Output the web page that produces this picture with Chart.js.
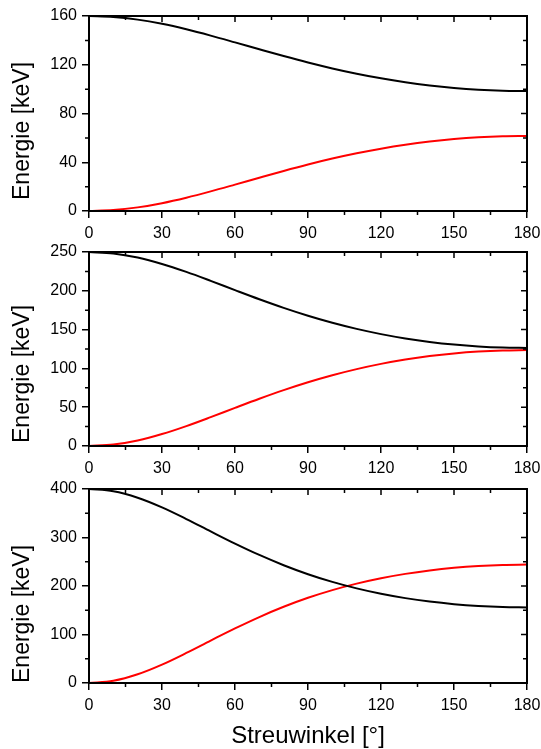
<!DOCTYPE html>
<html>
<head>
<meta charset="utf-8">
<script src="https://cdn.jsdelivr.net/npm/chart.js@4.4.0/dist/chart.umd.min.js"></script>
<style>
  body { margin: 0; background: #fff; }
  #wrap { position: relative; width: 541px; height: 749px; overflow: hidden; }
  canvas { position: absolute; left: 0; }
</style>
</head>
<body>
<div id="wrap">
  <canvas id="c1" width="541" height="245" style="top:0px"></canvas>
  <canvas id="c2" width="541" height="245" style="top:236px"></canvas>
  <canvas id="c3" width="541" height="278" style="top:473px"></canvas>
</div>
<script>
// Streuwinkel in Grad
const angles = [0,10,20,30,40,50,60,70,80,90,100,110,120,130,140,150,160,170,180];

// 160 keV
const photon160 = [160,159.24,157.03,153.56,149.08,143.91,138.34,132.67,127.11,121.85,117.00,112.66,108.87,105.65,103.03,100.99,99.54,98.68,98.39];
const electron160 = [0,0.76,2.97,6.44,10.92,16.09,21.66,27.33,32.89,38.15,43.00,47.34,51.13,54.35,56.97,59.01,60.46,61.32,61.61];

// 250 keV
const photon250 = [250,248.16,242.84,234.62,224.32,212.81,200.86,189.12,178.03,167.87,158.81,150.91,144.19,138.60,134.12,130.69,128.27,126.84,126.36];
const electron250 = [0,1.84,7.16,15.38,25.68,37.19,49.14,60.88,71.97,82.13,91.19,99.09,105.81,111.40,115.88,119.31,121.73,123.16,123.64];

// 400 keV
const photon400 = [400,395.30,381.97,362.04,338.08,312.59,287.48,264.02,242.89,224.37,208.47,195.07,183.98,174.98,167.90,162.56,158.83,156.64,155.91];
const electron400 = [0,4.70,18.03,37.96,61.92,87.41,112.52,135.98,157.11,175.63,191.53,204.93,216.02,225.02,232.10,237.44,241.17,243.36,244.09];

const xTicks = [0,30,60,90,120,150,180];
const yMaxes = [160,250,400];
const ySteps = [40,50,100];

const yTitle = 'Energie [keV]';
const xTitle = 'Streuwinkel [°]';

// frame, mirrored ticks, minor ticks, y title
const framePlugin = {
  id: 'frame',
  afterDraw(chart, args, opts) {
    const {ctx, chartArea: a, scales: {x, y}} = chart;
    ctx.save();
    ctx.strokeStyle = '#000';
    ctx.lineWidth = 2;
    ctx.strokeRect(a.left, a.top, a.right - a.left, a.bottom - a.top);

    ctx.lineWidth = 1.5;
    ctx.beginPath();
    const xv = x.ticks.map(t => t.value);
    xv.forEach(v => {
      const px = x.getPixelForValue(v);
      ctx.moveTo(px, a.top); ctx.lineTo(px, a.top + 6);
    });
    for (let i = 0; i < xv.length - 1; i++) {
      const px = x.getPixelForValue((xv[i] + xv[i + 1]) / 2);
      ctx.moveTo(px, a.bottom); ctx.lineTo(px, a.bottom + 4);
      ctx.moveTo(px, a.top); ctx.lineTo(px, a.top + 4);
    }
    const yv = y.ticks.map(t => t.value);
    yv.forEach(v => {
      const py = y.getPixelForValue(v);
      ctx.moveTo(a.right, py); ctx.lineTo(a.right - 6, py);
    });
    for (let i = 0; i < yv.length - 1; i++) {
      const py = y.getPixelForValue((yv[i] + yv[i + 1]) / 2);
      ctx.moveTo(a.left, py); ctx.lineTo(a.left - 4, py);
      ctx.moveTo(a.right, py); ctx.lineTo(a.right - 4, py);
    }
    ctx.stroke();

    // y axis title
    ctx.translate(opts.titleX, a.bottom - opts.lift);
    ctx.rotate(-Math.PI / 2);
    ctx.fillStyle = '#000';
    ctx.font = '23px Arial, "Liberation Sans", sans-serif';
    ctx.textAlign = 'left';
    ctx.textBaseline = 'alphabetic';
    ctx.fillText(yTitle, 0, 0);
    ctx.restore();
  }
};

const tickFont = { family: 'Arial, "Liberation Sans", sans-serif', size: 16 };

function makeChart(id, photon, electron, idx, xHeight, showXTitle, lift) {
  const ctx = document.getElementById(id).getContext('2d');
  return new Chart(ctx, {
    type: 'line',
    data: {
      datasets: [
        {
          data: angles.map((a, i) => ({ x: a, y: photon[i] })),
          borderColor: '#000000',
          borderWidth: 2,
          pointRadius: 0,
          cubicInterpolationMode: 'monotone',
          fill: false
        },
        {
          data: angles.map((a, i) => ({ x: a, y: electron[i] })),
          borderColor: '#ff0000',
          borderWidth: 2,
          pointRadius: 0,
          cubicInterpolationMode: 'monotone',
          fill: false
        }
      ]
    },
    options: {
      responsive: false,
      animation: false,
      layout: { padding: { top: 16, right: 14, bottom: 0, left: 0 } },
      plugins: {
        legend: { display: false },
        tooltip: { enabled: false },
        frame: { titleX: 29, lift: lift }
      },
      scales: {
        x: {
          type: 'linear',
          min: 0,
          max: 180,
          afterBuildTicks: s => { s.ticks = xTicks.map(v => ({ value: v })); },
          afterFit: s => { s.height = xHeight; s.paddingLeft = 0; s.paddingRight = 0; },
          ticks: { color: '#000', font: tickFont, padding: 6, maxRotation: 0 },
          grid: { drawOnChartArea: false, drawTicks: true, tickLength: 7, color: '#000', lineWidth: 1.5 },
          border: { display: false },
          title: {
            display: showXTitle,
            text: xTitle,
            color: '#000',
            font: { family: 'Arial, "Liberation Sans", sans-serif', size: 24 },
            padding: { top: 0, bottom: 0 }
          }
        },
        y: {
          min: 0,
          max: yMaxes[idx],
          afterFit: s => { s.width = 89; s.paddingTop = 0; s.paddingBottom = 0; },
          ticks: { stepSize: ySteps[idx], color: '#000', font: tickFont, padding: 5 },
          grid: { drawOnChartArea: false, drawTicks: true, tickLength: 7, color: '#000', lineWidth: 1.5 },
          border: { display: false }
        }
      }
    },
    plugins: [framePlugin]
  });
}

makeChart('c1', photon160, electron160, 0, 34, false, 11);
makeChart('c2', photon250, electron250, 1, 35, false, 3);
makeChart('c3', photon400, electron400, 2, 68, true, 0);
</script>
</body>
</html>
